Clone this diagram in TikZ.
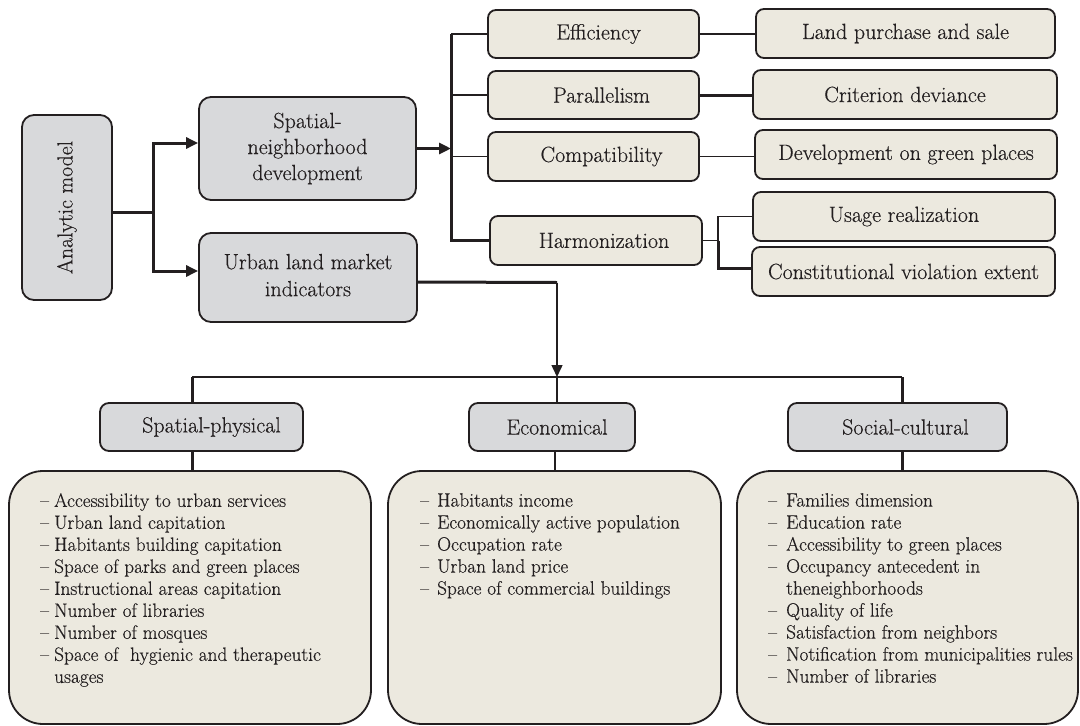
\documentclass[tikz,border=0pt]{standalone}
\usepackage{fontspec}
\setmainfont{Latin Modern Roman}[FakeBold=0.35]
\usetikzlibrary{arrows.meta,calc}
\definecolor{gfill}{HTML}{D8D9DB}
\definecolor{bfill}{HTML}{ECE9DF}
\definecolor{ink}{HTML}{231F20}
\newcommand{\dashitem}[2]{\makebox[#1][l]{\textendash}#2}
\begin{document}
\begin{tikzpicture}[x=1pt,y=-1pt,
 box/.style={draw=ink, line width=1.8pt, inner sep=0pt, text=ink, align=center, font=\fontsize{22}{26}\selectfont},
 gbox/.style={box, fill=gfill, rounded corners=12pt},
 bbox/.style={box, fill=bfill, rounded corners=8pt},
 lbox/.style={draw=ink, line width=1.8pt, fill=bfill, rounded corners=34pt, inner sep=0pt},
 thk/.style={draw=ink, line width=3pt},
 thn/.style={draw=ink, line width=1.5pt},
 arr/.style={-{Triangle[length=12pt,width=11pt]}},
 ltext/.style={anchor=north west, inner sep=0pt, text=ink, align=left, font=\fontsize{19.3}{22}\selectfont}
]
\useasboundingbox (0,0) rectangle (1080,726);

% left part
\node[gbox, minimum width=90pt, minimum height=185pt] (am) at (67,207.5) {};
\node[rotate=90, text=ink, font=\fontsize{21.7}{26}\selectfont] (amt) at (am.center) {Analytic model};
\node[gbox, minimum width=217pt, minimum height=103pt] (sn) at (307.5,148.5) {Spatial-\\neighborhood\\development};
\node[gbox, minimum width=218pt, minimum height=89pt] (ul) at (308,277.5) {\raisebox{5pt}{\begin{tabular}{@{}c@{}}Urban land market\\[1pt]indicators\end{tabular}}};

% middle column
\node[bbox, minimum width=211pt, minimum height=48pt] (eff) at (593.5,34) {\hspace*{10pt}Efficiency};
\node[bbox, minimum width=211pt, minimum height=48pt] (par) at (593.5,95) {\hspace*{16pt}Parallelism};
\node[bbox, minimum width=211pt, minimum height=49pt] (com) at (593.5,156.5) {\hspace*{16pt}Compatibility};
\node[bbox, minimum width=212pt, minimum height=49pt] (har) at (596,240.5) {\hspace*{16pt}Harmonization};

% right column
\node[bbox, minimum width=299pt, minimum height=49pt] (lps) at (905.5,33.5) {Land purchase and sale};
\node[bbox, minimum width=304pt, minimum height=49pt] (cd) at (905,94.5) {Criterion deviance};
\node[bbox, minimum width=302pt, minimum height=49pt] (dgp) at (906,154.5) {Development on green places};
\node[bbox, minimum width=302pt, minimum height=49pt] (ur) at (904,216.5) {Usage realization};
\node[bbox, minimum width=303pt, minimum height=49pt] (cve) at (903.5,271.5) {Constitutional violation extent};

% bottom headers
\node[gbox, rounded corners=9pt, minimum width=203pt, minimum height=48pt] (sp) at (201.5,427) {\hspace*{20pt}Spatial-physical};
\node[gbox, rounded corners=9pt, minimum width=166pt, minimum height=48pt] (ec) at (552,427) {\hspace*{10pt}Economical};
\node[gbox, rounded corners=9pt, minimum width=219pt, minimum height=48pt] (sc) at (897.5,427) {\hspace*{16pt}Social-cultural};

% bottom big boxes
\node[lbox, minimum width=362pt, minimum height=253pt] (l1) at (190,597.5) {};
\node[lbox, minimum width=333pt, minimum height=253pt] (l2) at (554.5,597.5) {};
\node[lbox, minimum width=341pt, minimum height=253pt] (l3) at (907.5,597.5) {};

\node[ltext] (t1) at (40,493) {%
\dashitem{14pt}{Accessibility to urban services}\\
\dashitem{14pt}{Urban land capitation}\\
\dashitem{14pt}{Habitants building capitation}\\
\dashitem{14pt}{Space of parks and green places}\\
\dashitem{14pt}{Instructional areas capitation}\\
\dashitem{14pt}{Number of libraries}\\
\dashitem{14pt}{Number of mosques}\\
\dashitem{14pt}{Space of\ \ hygienic and therapeutic}\\
\hspace*{14pt}usages};
\node[ltext] (t2) at (420,493) {%
\dashitem{17pt}{Habitants income}\\
\dashitem{17pt}{Economically active population}\\
\dashitem{17pt}{Occupation rate}\\
\dashitem{17pt}{Urban land price}\\
\dashitem{17pt}{Space of commercial buildings}};
\node[ltext] (t3) at (768,493) {%
\dashitem{18pt}{Families dimension}\\
\dashitem{18pt}{Education rate}\\
\dashitem{18pt}{Accessibility to green places}\\
\dashitem{18pt}{Occupancy antecedent in}\\
\hspace*{18pt}theneighborhoods\\
\dashitem{18pt}{Quality of life}\\
\dashitem{18pt}{Satisfaction from neighbors}\\
\dashitem{18pt}{Notification from municipalities rules}\\
\dashitem{18pt}{Number of libraries}};

% connectors: left
\coordinate (sp1) at (153,212);
\draw[thk] ([yshift=-4.5pt]am.east) -- (sp1);
\draw[thk,arr] (sp1) |- ([yshift=5.5pt]sn.west);
\draw[thk,arr] (sp1) |- ([yshift=6.5pt]ul.west);

% bus to middle column
\coordinate (bt) at (451,34);
\coordinate (bb) at (451,240.5);
\draw[thk] (bt) -- (bb) -- (har.west);
\draw[thn] (bt) -- (eff.west);
\draw[thn] (par.west -| bt) -- (par.west);
\draw[thn] (com.west -| bt) -- (com.west);
\draw[thk,arr] (sn.east) -- (sn.east -| bt);

% middle to right
\draw[thn] (eff.east) -- (eff.east -| lps.west);
\draw[thk] (par.east) -- (par.east -| cd.west);
\draw[thn] (com.east) -- (com.east -| dgp.west);
\coordinate (fk) at (718,240.5);
\draw[thn] (har.east) -- (fk) |- (ur.west);
\draw[thk] (fk) |- ([yshift=3.5pt]cve.west);

% urban land market down
\coordinate (hc) at (557,282.5);
\coordinate (hm) at (557,377);
\draw[thk] ([yshift=-4.5pt]ul.east) -- (hc);
\draw[thn,arr] (hc) -- (hm);

% bottom bus
\coordinate (hl) at (192,377);
\coordinate (hr) at (902,377);
\draw[thn] (hl) -- (hr);
\draw[thk] (hl) -- (hl |- sp.north);
\draw[thn] (hm) -- (hm |- ec.north);
\draw[thk] (hr) -- (hr |- sc.north);
\draw[thk] (hl |- sp.south) -- (hl |- l1.north);
\draw[thn] ([xshift=3pt]ec.south) -- ([xshift=3pt]ec.south |- l2.north);
\draw[thk] (hr |- sc.south) -- (hr |- l3.north);
\end{tikzpicture}
\end{document}
